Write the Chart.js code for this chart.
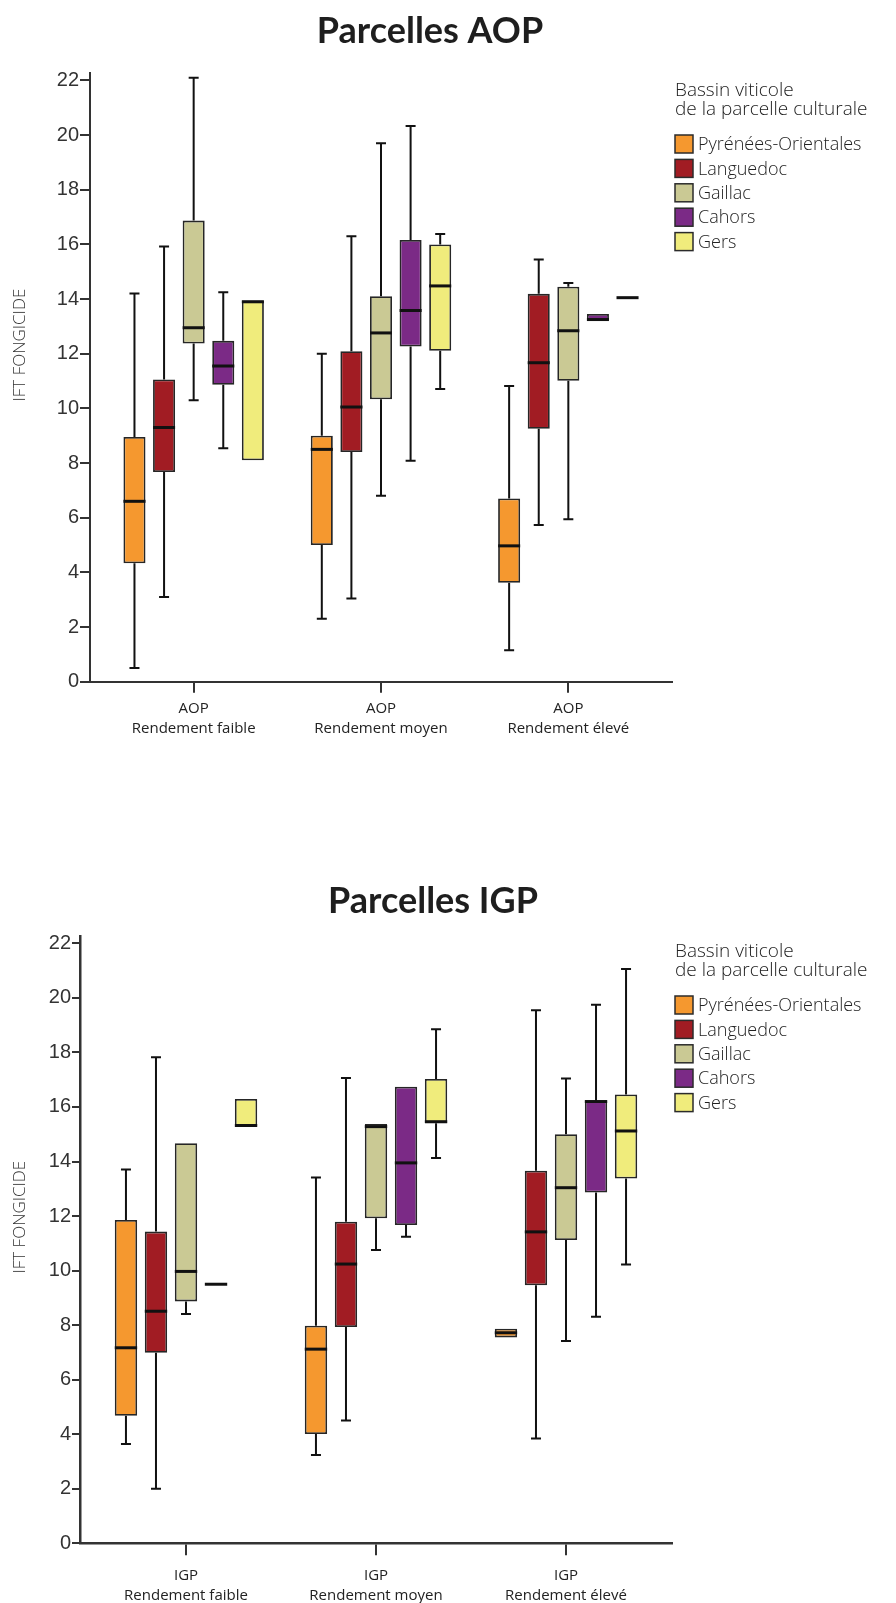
<!DOCTYPE html>
<html>
<head>
<meta charset="utf-8">
<script src="https://cdn.jsdelivr.net/npm/chart.js@4.4.1/dist/chart.umd.min.js"></script>
<style>
  html, body { margin: 0; padding: 0; background: #fff; }
  body { width: 896px; height: 1603px; position: relative; overflow: hidden; }
  canvas { position: absolute; left: 0; }
  #aop { top: 0; }
  #igp { top: 800px; }
</style>
</head>
<body>
<canvas id="aop" width="896" height="790"></canvas>
<canvas id="igp" width="896" height="803"></canvas>
<script>
// categories
var aopLabels = [['AOP', 'Rendement faible'], ['AOP', 'Rendement moyen'], ['AOP', 'Rendement élevé']];
var igpLabels = [['IGP', 'Rendement faible'], ['IGP', 'Rendement moyen'], ['IGP', 'Rendement élevé']];
var basins = ['Pyrénées-Orientales', 'Languedoc', 'Gaillac', 'Cahors', 'Gers'];
var basinColors = ['#F5982F', '#A11C23', '#CAC994', '#7B2A86', '#F0EC7C'];
var yTicks = [0, 2, 4, 6, 8, 10, 12, 14, 16, 18, 20, 22];

// [min, q1, median, q3, max] per category (faible, moyen, élevé)
var aopPyrenees = [[0.5, 4.33, 6.6, 8.95, 14.2], [2.3, 5.0, 8.5, 9.0, 12.0], [1.15, 3.62, 4.97, 6.7, 10.82]];
var aopLanguedoc = [[3.1, 7.67, 9.3, 11.06, 15.92], [3.04, 8.4, 10.05, 12.09, 16.3], [5.73, 9.25, 11.67, 14.19, 15.45]];
var aopGaillac = [[10.3, 12.37, 12.95, 16.87, 22.1], [6.8, 10.33, 12.76, 14.1, 19.7], [5.94, 11.01, 12.84, 14.45, 14.59]];
var aopCahors = [[8.54, 10.86, 11.55, 12.47, 14.25], [8.08, 12.26, 13.58, 16.16, 20.33], [13.22, 13.22, 13.25, 13.45, 13.45]];
var aopGers = [[8.1, 8.1, 13.9, 13.95, 13.95], [10.71, 12.11, 14.48, 16.0, 16.38], [14.05, 14.05, 14.05, 14.05, 14.05]];

var igpPyrenees = [[3.64, 4.68, 7.17, 11.86, 13.71], [3.24, 4.01, 7.12, 7.98, 13.41], [7.55, 7.55, 7.72, 7.87, 7.87]];
var igpLanguedoc = [[2.0, 6.99, 8.51, 11.43, 17.82], [4.5, 7.93, 10.24, 11.79, 17.06], [3.84, 9.46, 11.42, 13.66, 19.55]];
var igpGaillac = [[8.41, 8.87, 9.97, 14.67, 14.67], [10.76, 11.92, 15.28, 15.38, 15.38], [7.42, 11.12, 13.04, 15.0, 17.04]];
var igpCahors = [[9.5, 9.5, 9.5, 9.5, 9.5], [11.24, 11.67, 13.95, 16.74, 16.74], [8.31, 12.86, 16.2, 16.23, 19.75]];
var igpGers = [[15.3, 15.3, 15.32, 16.29, 16.29], [14.13, 15.4, 15.46, 17.03, 18.85], [10.22, 13.38, 15.12, 16.46, 21.06]];

// category axis with a small inset at both ends (the axis line runs past the outer groups)
class PaddedCategoryScale extends Chart.CategoryScale {
  configure() {
    super.configure();
    var pad = this.options.sidePadding || 0;
    this._startPixel += pad;
    this._endPixel -= pad;
    this._length = this._endPixel - this._startPixel;
  }
}
PaddedCategoryScale.id = 'paddedCategory';
PaddedCategoryScale.defaults = Chart.CategoryScale.defaults;
Chart.register(PaddedCategoryScale);

// whiskers, caps and medians on top of the floating bars
var boxPlotPlugin = {
  id: 'boxPlot',
  afterDatasetsDraw: function(chart) {
    var ctx = chart.ctx;
    var y = chart.scales.y;
    ctx.save();
    ctx.strokeStyle = '#111';
    chart.data.datasets.forEach(function(ds, di) {
      var meta = chart.getDatasetMeta(di);
      meta.data.forEach(function(bar, i) {
        var s = ds.stats[i];
        var cx = bar.x, half = bar.width / 2, cap = 5;
        var pMin = y.getPixelForValue(s[0]), pQ1 = y.getPixelForValue(s[1]);
        var pMed = y.getPixelForValue(s[2]);
        var pQ3 = y.getPixelForValue(s[3]), pMax = y.getPixelForValue(s[4]);
        ctx.lineWidth = 2;
        ctx.beginPath();
        if (s[4] > s[3]) {
          ctx.moveTo(cx, pQ3); ctx.lineTo(cx, pMax);
          ctx.moveTo(cx - cap, pMax); ctx.lineTo(cx + cap, pMax);
        }
        if (s[0] < s[1]) {
          ctx.moveTo(cx, pQ1); ctx.lineTo(cx, pMin);
          ctx.moveTo(cx - cap, pMin); ctx.lineTo(cx + cap, pMin);
        }
        ctx.stroke();
        ctx.lineWidth = 3;
        ctx.beginPath();
        ctx.moveTo(cx - half, pMed); ctx.lineTo(cx + half, pMed);
        ctx.stroke();
      });
    });
    ctx.restore();
  }
};

// title, y axis title and legend
var decorPlugin = {
  id: 'decor',
  afterDraw: function(chart, args, opts) {
    var ctx = chart.ctx;
    var area = chart.chartArea;
    ctx.save();
    ctx.fillStyle = '#1e1e1e';
    ctx.font = 'bold 36px Lato';
    ctx.textAlign = 'center';
    ctx.textBaseline = 'alphabetic';
    ctx.fillText(opts.title, opts.titleX, opts.titleBaseline);

    ctx.save();
    ctx.translate(20, area.top + opts.yTitlePos * (area.bottom - area.top));
    ctx.rotate(-Math.PI / 2);
    ctx.font = '300 17px "Open Sans"';
    ctx.fillStyle = '#333';
    ctx.textBaseline = 'middle';
    ctx.fillText('IFT FONGICIDE', 0, 0);
    ctx.restore();

    var lx = area.right + 3;
    ctx.textAlign = 'left';
    ctx.fillStyle = '#222';
    ctx.font = '300 19px "Open Sans"';
    ctx.fillText('Bassin viticole', lx, area.top + opts.legendTop);
    ctx.fillText('de la parcelle culturale', lx, area.top + opts.legendTop + 19);
    ctx.font = '300 18px "Open Sans"';
    ctx.textBaseline = 'middle';
    chart.data.datasets.forEach(function(ds, i) {
      var cy = area.top + opts.legendTop + 48 + i * 24.4;
      ctx.fillStyle = ds.backgroundColor;
      ctx.fillRect(lx, cy - 9, 18, 18);
      ctx.strokeStyle = '#2b2b2b';
      ctx.lineWidth = 1.5;
      ctx.strokeRect(lx, cy - 9, 18, 18);
      ctx.fillStyle = '#222';
      ctx.fillText(ds.label, lx + 23, cy + 1);
    });
    ctx.restore();
  }
};

function makeDatasets(groups) {
  return groups.map(function(stats, i) {
    return {
      label: basins[i],
      stats: stats,
      data: stats.map(function(s) { return [s[1], s[3]]; }),
      backgroundColor: basinColors[i],
      borderColor: '#262626',
      borderWidth: 1.8,
      borderSkipped: false,
      categoryPercentage: 0.79,
      barPercentage: 0.745
    };
  });
}

function makeChart(id, labels, groups, cfg) {
  return new Chart(document.getElementById(id), {
    type: 'bar',
    data: { labels: labels, datasets: makeDatasets(groups) },
    plugins: [boxPlotPlugin, decorPlugin],
    options: {
      responsive: false,
      animation: false,
      events: [],
      layout: { padding: { top: cfg.top, right: 896 - cfg.right, left: 0, bottom: 0 } },
      plugins: {
        legend: { display: false },
        tooltip: { enabled: false },
        decor: cfg.decor
      },
      scales: {
        x: {
          type: 'paddedCategory',
          sidePadding: cfg.sidePad,
          offset: true,
          afterFit: function(s) { s.height = cfg.xHeight; },
          border: { display: true, color: '#333', width: cfg.axisWidth },
          grid: { offset: false, drawOnChartArea: false, drawTicks: true, tickLength: cfg.xTick, color: '#333', lineWidth: 2 },
          ticks: { padding: cfg.xPad, color: '#222', font: { family: '"Open Sans"', size: 15, lineHeight: 1.35 }, maxRotation: 0, autoSkip: false }
        },
        y: {
          min: 0,
          max: 22.27,
          afterFit: function(s) { s.width = cfg.left; },
          afterBuildTicks: function(s) { s.ticks = yTicks.map(function(v) { return { value: v }; }); },
          border: { display: true, color: '#333', width: cfg.axisWidth },
          grid: { drawOnChartArea: false, drawTicks: true, tickLength: cfg.yTick, color: '#333', lineWidth: 2 },
          ticks: { padding: 1, color: '#333', font: { family: '"Liberation Sans Narrow", "Liberation Sans"', size: 20 } }
        }
      }
    }
  });
}

makeChart('aop', aopLabels, [aopPyrenees, aopLanguedoc, aopGaillac, aopCahors, aopGers], {
  top: 73, right: 672, left: 90, xHeight: 108.3, sidePad: 10, axisWidth: 2, xTick: 11, yTick: 10, xPad: 6,
  decor: { title: 'Parcelles AOP', titleX: 430, titleBaseline: 43, yTitlePos: 0.447, legendTop: 23 }
});
makeChart('igp', igpLabels, [igpPyrenees, igpLanguedoc, igpGaillac, igpCahors, igpGers], {
  top: 136, right: 672, left: 80, xHeight: 59.7, sidePad: 11, axisWidth: 2.5, xTick: 12, yTick: 8, xPad: 10,
  decor: { title: 'Parcelles IGP', titleX: 433, titleBaseline: 113, yTitlePos: 0.463, legendTop: 21 }
});
</script>
</body>
</html>
